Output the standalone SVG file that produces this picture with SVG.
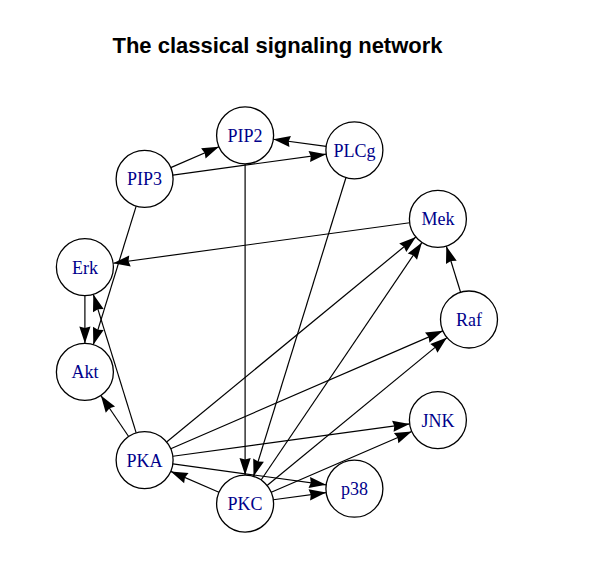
<svg xmlns="http://www.w3.org/2000/svg" width="598" height="575" viewBox="0 0 598 575">
<style>
.title{font-family:"Liberation Sans",Arial,sans-serif;font-size:22px;font-weight:bold;fill:#000;text-anchor:middle}
.node circle{fill:#fff;stroke:#000;stroke-width:1.3}
.node text{font-family:"Liberation Serif","Times New Roman",serif;font-size:18px;fill:#00008B;text-anchor:middle}
#edges line{stroke:#000;stroke-width:1.2;marker-end:url(#arr)}
</style>
<defs>
<marker id="arr" viewBox="-18 -6 18 12" refX="0" refY="0" markerWidth="18" markerHeight="12" markerUnits="userSpaceOnUse" orient="auto">
<path d="M0,0 L-17,-5.6 L-15.5,0 L-17,5.6 Z" fill="#000"/>
</marker>
</defs>
<rect width="598" height="575" fill="#fff"/>
<text class="title" x="277.5" y="53">The classical signaling network</text>
<g id="edges">
<line x1="170.76" y1="167.58" x2="218.94" y2="146.72"/>
<line x1="172.84" y1="175.05" x2="326.16" y2="154.15"/>
<line x1="326.16" y1="146.45" x2="273.34" y2="139.25"/>
<line x1="245.1" y1="163.9" x2="245.1" y2="475.1"/>
<line x1="345.98" y1="177.53" x2="253.52" y2="476.37"/>
<line x1="136.18" y1="206.13" x2="93.32" y2="344.67"/>
<line x1="409.66" y1="222.76" x2="113.14" y2="263.24"/>
<line x1="460.58" y1="292.27" x2="446.32" y2="246.13"/>
<line x1="84.9" y1="295.6" x2="84.9" y2="343.4"/>
<line x1="136.18" y1="432.87" x2="93.32" y2="294.33"/>
<line x1="128.62" y1="436.5" x2="100.88" y2="395.5"/>
<line x1="166.61" y1="442.0" x2="415.89" y2="237.0"/>
<line x1="170.75" y1="448.77" x2="442.85" y2="330.83"/>
<line x1="172.84" y1="456.25" x2="409.66" y2="423.95"/>
<line x1="172.84" y1="463.95" x2="326.16" y2="484.85"/>
<line x1="218.94" y1="492.28" x2="170.76" y2="471.42"/>
<line x1="261.08" y1="480.0" x2="421.92" y2="242.5"/>
<line x1="267.11" y1="485.5" x2="446.99" y2="337.6"/>
<line x1="271.25" y1="492.27" x2="411.75" y2="431.43"/>
<line x1="273.34" y1="499.75" x2="326.16" y2="492.55"/>
</g>
<g id="Raf" class="node"><circle cx="469" cy="319.5" r="28.5"/><text x="469" y="326">Raf</text></g>
<g id="Mek" class="node"><circle cx="437.9" cy="218.9" r="28.5"/><text x="437.9" y="225.4">Mek</text></g>
<g id="PLCg" class="node"><circle cx="354.4" cy="150.3" r="28.5"/><text x="354.4" y="156.8">PLCg</text></g>
<g id="PIP2" class="node"><circle cx="245.1" cy="135.4" r="28.5"/><text x="245.1" y="141.9">PIP2</text></g>
<g id="PIP3" class="node"><circle cx="144.6" cy="178.9" r="28.5"/><text x="144.6" y="185.4">PIP3</text></g>
<g id="Erk" class="node"><circle cx="84.9" cy="267.1" r="28.5"/><text x="84.9" y="273.6">Erk</text></g>
<g id="Akt" class="node"><circle cx="84.9" cy="371.9" r="28.5"/><text x="84.9" y="378.4">Akt</text></g>
<g id="PKA" class="node"><circle cx="144.6" cy="460.1" r="28.5"/><text x="144.6" y="466.6">PKA</text></g>
<g id="PKC" class="node"><circle cx="245.1" cy="503.6" r="28.5"/><text x="245.1" y="510.1">PKC</text></g>
<g id="p38" class="node"><circle cx="354.4" cy="488.7" r="28.5"/><text x="354.4" y="495.2">p38</text></g>
<g id="JNK" class="node"><circle cx="437.9" cy="420.1" r="28.5"/><text x="437.9" y="426.6">JNK</text></g>
</svg>
